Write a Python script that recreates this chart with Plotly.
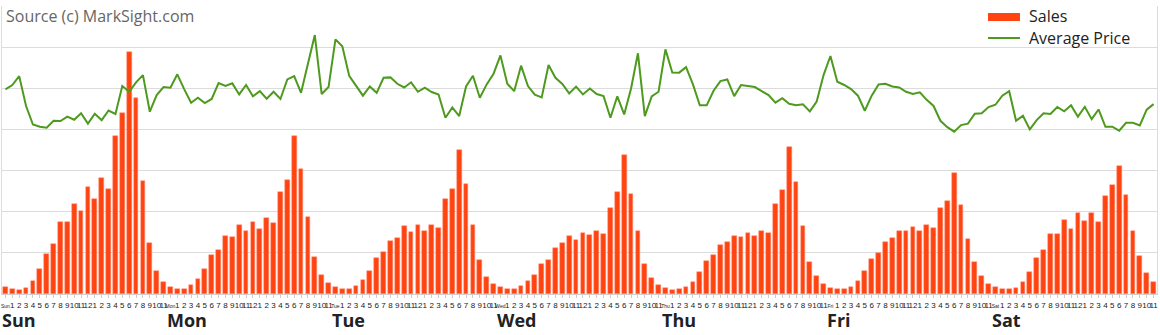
import plotly.graph_objects as go

days = ["Sun", "Mon", "Tue", "Wed", "Thu", "Fri", "Sat"]
hour_labels = ["", "1", "2", "3", "4", "5", "6", "7", "8", "9", "10", "11", "12",
               "1", "2", "3", "4", "5", "6", "7", "8", "9", "10", "11"]

sales_sun = [18, 13, 10, 15, 32, 60, 98, 121, 174, 175, 218, 201, 261, 232, 283, 256, 384, 440, 587, 477, 275, 123, 57, 29]
sales_mon = [17, 12, 12, 21, 36, 61, 94, 106, 141, 139, 168, 154, 175, 158, 184, 173, 248, 277, 384, 303, 186, 90, 45, 26]
sales_tue = [16, 12, 13, 20, 35, 55, 87, 101, 129, 136, 165, 151, 167, 152, 168, 161, 232, 255, 351, 268, 167, 82, 42, 24]
sales_wed = [16, 12, 12, 19, 32, 47, 73, 83, 113, 124, 142, 132, 148, 144, 152, 146, 208, 247, 337, 243, 152, 73, 38, 22]
sales_thu = [14, 10, 11, 17, 29, 53, 80, 94, 118, 127, 140, 139, 149, 142, 154, 148, 219, 253, 357, 272, 165, 79, 44, 24]
sales_fri = [15, 11, 11, 17, 32, 55, 84, 100, 126, 135, 153, 152, 163, 152, 168, 160, 209, 225, 293, 217, 133, 79, 43, 25]
sales_sat = [16, 12, 11, 15, 30, 54, 88, 108, 145, 147, 180, 159, 198, 178, 196, 175, 238, 265, 312, 240, 152, 92, 50, 28]

price_sun = [11.95, 12.16, 12.59, 11.14, 10.24, 10.13, 10.08, 10.42, 10.41, 10.62, 10.47, 10.79, 10.28, 10.76, 10.45, 10.92, 10.75, 12.11, 11.83, 12.29, 12.64, 10.86, 11.67, 12.06]
price_mon = [12.03, 12.68, 11.96, 11.30, 11.54, 11.28, 11.48, 12.25, 12.11, 12.24, 11.70, 12.16, 11.61, 11.86, 11.49, 11.83, 11.48, 12.43, 12.59, 11.78, 13.19, 14.59, 11.72, 12.06]
price_tue = [14.38, 14.04, 12.61, 12.12, 11.64, 12.09, 11.78, 12.51, 12.53, 12.22, 12.04, 12.29, 11.83, 12.03, 11.82, 11.70, 10.57, 11.07, 10.65, 12.09, 12.61, 11.54, 12.19, 12.71]
price_wed = [13.60, 12.22, 11.86, 13.10, 12.11, 11.69, 11.56, 13.13, 12.51, 12.21, 11.75, 12.08, 11.70, 11.99, 11.72, 11.62, 10.57, 11.61, 10.73, 11.99, 13.70, 10.65, 11.61, 11.83]
price_thu = [13.89, 12.77, 12.76, 13.03, 12.19, 11.17, 11.17, 11.88, 12.35, 12.43, 11.62, 12.16, 12.12, 12.06, 11.86, 11.67, 11.30, 11.52, 11.25, 11.18, 11.22, 10.88, 11.36, 12.64]
price_fri = [13.57, 12.32, 12.16, 11.96, 11.64, 10.91, 11.64, 12.19, 12.22, 12.09, 12.04, 11.83, 11.72, 11.80, 11.44, 11.14, 10.42, 10.11, 9.89, 10.21, 10.28, 10.76, 10.79, 11.09]
price_sat = [11.20, 11.64, 11.86, 10.42, 10.66, 10.00, 10.45, 10.79, 10.75, 11.09, 10.88, 11.17, 10.62, 11.10, 10.50, 10.97, 10.13, 10.13, 9.94, 10.32, 10.32, 10.19, 10.96, 11.23]

sales = sales_sun + sales_mon + sales_tue + sales_wed + sales_thu + sales_fri + sales_sat
prices = price_sun + price_mon + price_tue + price_wed + price_thu + price_fri + price_sat

n = len(sales)
x = list(range(n))
ticktext = []
for d in days:
    for h, lab in enumerate(hour_labels):
        ticktext.append('<span style="font-size:5px">%s</span>' % d if h == 0 else lab)

BAR = "#FF4410"
LINE = "#4E9A1E"
FONT = "Open Sans"

fig = go.Figure()
fig.add_trace(go.Bar(x=x, y=sales, name="Sales", width=0.68,
                     marker=dict(color=BAR, line=dict(color="#FF8A70", width=0.5)),
                     showlegend=False))
fig.add_trace(go.Scatter(x=x, y=prices, name="Average Price", mode="lines", yaxis="y2",
                         line=dict(color=LINE, width=2), showlegend=False))

W, H = 1160, 335
ml, mr, mt, mb = 2, 3, 6, 41
pw = W - ml - mr
ph = H - mt - mb

def px(xp):
    return (xp - ml) / pw

def py(yp):
    return (H - mb - yp) / ph

shapes = [
    dict(type="rect", xref="paper", yref="paper", x0=px(988), x1=px(1020), y0=py(21), y1=py(13),
         fillcolor=BAR, line=dict(width=0)),
    dict(type="line", xref="paper", yref="paper", x0=px(988), x1=px(1020), y0=py(38), y1=py(38),
         line=dict(color=LINE, width=2)),
]

annotations = [
    dict(text="Source (c) MarkSight.com", xref="paper", yref="paper", x=px(4), y=py(16),
         xanchor="left", yanchor="middle", showarrow=False, font=dict(family=FONT, size=16, color="#666666")),
    dict(text="Sales", xref="paper", yref="paper", x=px(1027), y=py(16),
         xanchor="left", yanchor="middle", showarrow=False, font=dict(family=FONT, size=16, color="#222222")),
    dict(text="Average Price", xref="paper", yref="paper", x=px(1027), y=py(38),
         xanchor="left", yanchor="middle", showarrow=False, font=dict(family=FONT, size=16, color="#222222")),
]
for i, d in enumerate(days):
    annotations.append(dict(text="<b>%s</b>" % d, xref="x", yref="paper", x=i * 24 - 0.5, y=py(320),
                            xanchor="left", yanchor="middle", showarrow=False, xshift=-2,
                            font=dict(family=FONT, size=18, color="#222222")))

fig.update_layout(
    width=W, height=H,
    margin=dict(l=ml, r=mr, t=mt, b=mb, autoexpand=False),
    paper_bgcolor="white", plot_bgcolor="white",
    showlegend=False,
    bargap=0,
    xaxis=dict(range=[-0.5, n - 0.5], tickmode="array", tickvals=x, ticktext=ticktext,
               tickangle=0, ticks="outside", ticklen=3, tickcolor="#cccccc",
               tickfont=dict(family="Liberation Sans", size=8, color="#222222"),
               showline=True, linecolor="#d0d0d0", showgrid=False, zeroline=False, automargin=False),
    yaxis=dict(range=[0, 700], dtick=100, showgrid=True, gridcolor="#dcdcdc", gridwidth=1,
               showticklabels=False, zeroline=False, showline=True, mirror=True,
               linecolor="#dcdcdc", ticks="", automargin=False),
    yaxis2=dict(range=[2, 16], overlaying="y", visible=False, showgrid=False, zeroline=False),
    shapes=shapes,
    annotations=annotations,
)

fig.write_html("out.html")
